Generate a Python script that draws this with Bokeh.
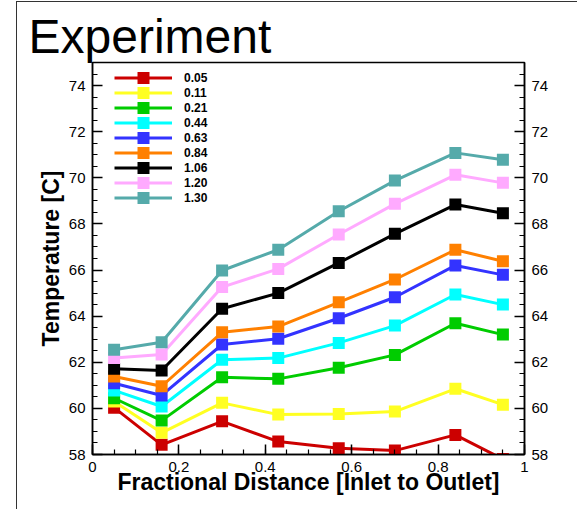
import numpy as np
from bokeh.plotting import figure
from bokeh.models import (LinearAxis, FixedTicker, Range1d, Legend, LegendItem)
from bokeh.embed import file_html
from bokeh.resources import INLINE

# ---------------- data ----------------
x_frac = [0.05, 0.16, 0.30, 0.43, 0.57, 0.70, 0.84, 0.95]
series_labels = ["0.05", "0.11", "0.21", "0.44", "0.63", "0.84", "1.06", "1.20", "1.30"]
t_005 = [60.03, 58.42, 59.44, 58.56, 58.27, 58.17, 58.85, 57.80]
t_011 = [60.30, 58.94, 60.24, 59.73, 59.76, 59.86, 60.85, 60.16]
t_021 = [60.44, 59.47, 61.35, 61.28, 61.76, 62.32, 63.69, 63.20]
t_044 = [60.78, 60.08, 62.11, 62.18, 62.84, 63.59, 64.94, 64.50]
t_063 = [61.09, 60.56, 62.77, 63.02, 63.91, 64.82, 66.20, 65.79]
t_084 = [61.38, 60.96, 63.30, 63.55, 64.60, 65.59, 66.88, 66.38]
t_106 = [61.72, 61.64, 64.32, 65.00, 66.31, 67.57, 68.84, 68.46]
t_120 = [62.18, 62.34, 65.26, 66.05, 67.54, 68.87, 70.13, 69.78]
t_130 = [62.54, 62.87, 65.98, 66.88, 68.55, 69.88, 71.08, 70.78]
series_values = [t_005, t_011, t_021, t_044, t_063, t_084, t_106, t_120, t_130]
series_colors = ["#CC0000", "#FFFF22", "#00CC00", "#00FFFF", "#3333FF",
                 "#FF8000", "#000000", "#FFAAFF", "#55AAAA"]

x_ticks = [0, 0.2, 0.4, 0.6, 0.8, 1.0]
x_tick_labels = ["0", "0.2", "0.4", "0.6", "0.8", "1"]
y_ticks = [58, 60, 62, 64, 66, 68, 70, 72, 74]

title_text = "Experiment"
x_label = "Fractional Distance [Inlet to Outlet]"
y_label = "Temperature [C]"

FONT = "Liberation Sans"

# ---------------- figure ----------------
p = figure(frame_width=432, frame_height=392,
           min_border_left=75, min_border_right=53,
           min_border_top=60, min_border_bottom=55,
           x_range=Range1d(0, 1), y_range=Range1d(58, 75),
           output_backend="svg", toolbar_location=None,
           background_fill_color="white", border_fill_color="white")
p.styles = {"margin-left": "16px", "margin-top": "1px",
            "border-left": "1px solid #333333",
            "border-top": "1px solid #333333"}
p.xgrid.visible = False
p.ygrid.visible = False
p.outline_line_color = "black"
p.outline_line_width = 1.5
p.outline_line_alpha = 1.0

p.title.text = title_text
p.title.text_font = FONT
p.title.text_font_size = "48px"
p.title.text_font_style = "normal"
p.title.text_color = "black"
p.title.align = "left"
p.title.offset = -64
p.title.standoff = 0

xt = FixedTicker(ticks=x_ticks, minor_ticks=list(np.round(np.arange(0, 1.0001, 0.05), 4)))
yt = FixedTicker(ticks=y_ticks, minor_ticks=list(np.arange(58, 75.01, 0.5)))

def style_axis(ax):
    ax.axis_line_color = "black"
    ax.axis_line_width = 1.5
    ax.major_tick_line_color = "black"
    ax.major_tick_line_width = 1.5
    ax.minor_tick_line_color = "black"
    ax.minor_tick_line_width = 1.2
    ax.major_tick_in = 10
    ax.major_tick_out = 0
    ax.minor_tick_in = 5
    ax.minor_tick_out = 0
    ax.major_label_text_font = FONT
    ax.major_label_text_font_size = "15px"
    ax.major_label_text_color = "black"
    ax.major_label_standoff = 7
    ax.axis_label_text_font = FONT
    ax.axis_label_text_font_size = "23px"
    ax.axis_label_text_font_style = "bold"
    ax.axis_label_text_color = "black"

p.xaxis.ticker = xt
p.xaxis.major_label_overrides = {t: l for t, l in zip(x_ticks, x_tick_labels)}
p.xaxis.axis_label = x_label
p.yaxis.ticker = yt
p.yaxis.axis_label = y_label
style_axis(p.xaxis[0])
style_axis(p.yaxis[0])
p.xaxis[0].axis_label_standoff = -6
p.yaxis[0].axis_label_standoff = 2

right_axis = LinearAxis(ticker=yt)
style_axis(right_axis)
p.add_layout(right_axis, "right")

items = []
for lab, vals, col in zip(series_labels, series_values, series_colors):
    lr = p.line(x_frac, vals, line_color=col, line_width=3)
    mr = p.scatter(x_frac, vals, marker="square", size=6, line_width=6,
                   line_join="miter", fill_color=col, line_color=col)
    items.append(LegendItem(label=lab, renderers=[lr, mr]))

legend = Legend(items=items, location=(22, 249), padding=5, spacing=0,
                glyph_width=58, glyph_height=15, label_height=15,
                label_standoff=12, label_text_font=FONT,
                label_text_font_size="12px", label_text_font_style="bold",
                label_text_color="black",
                border_line_color=None, background_fill_alpha=0, margin=0)
p.add_layout(legend)

open("out.html", "w").write(file_html(p, INLINE))
